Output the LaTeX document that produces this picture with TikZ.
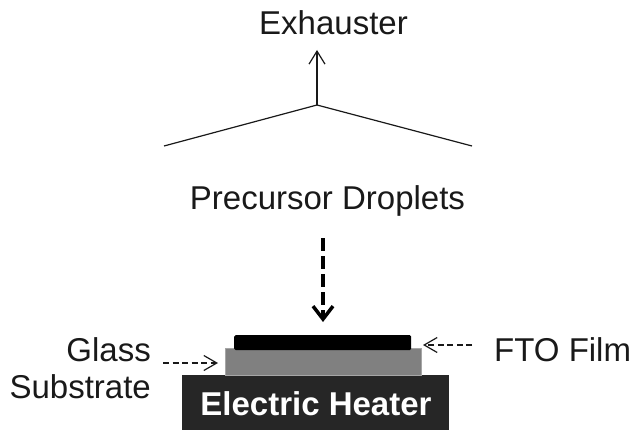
\documentclass[tikz,border=0pt]{standalone}
\usepackage{fontspec}
\setmainfont{Liberation Sans}
\usetikzlibrary{arrows.meta}
\begin{document}
\begin{tikzpicture}[x=1pt,y=-1pt,
 lab/.style={inner sep=0pt,font=\fontsize{33}{38}\selectfont,text=black!90},
 thin arrow/.style={draw=black!90,line width=1.2pt,dash pattern=on 6pt off 3.5pt,-{Straight Barb[length=13pt,width=15pt,line width=1.2pt]}},
 block/.style={inner sep=0pt,anchor=north west}]
\useasboundingbox (0,0) rectangle (632,433);
\node[block,fill=black!85,minimum width=267pt,minimum height=55pt] (heater) at (182,375) {};
\node[text=white,inner sep=0pt,anchor=base,font=\bfseries\fontsize{33}{38}\selectfont] at (316,415) {Electric Heater};
\node[block,draw=black!35,line width=0.5pt,fill=black!50,minimum width=196pt,minimum height=27pt] (glass) at (225,348) {};
\node[block,fill=black,rounded corners=1.5pt,minimum width=177pt,minimum height=15pt] (film) at (234,335) {};
\node[lab,anchor=base] (ex) at (333.5,35) {Exhauster};
\node[lab,anchor=base] (pre) at (327.5,209) {Precursor Droplets};
\node[lab,anchor=base east] (gl) at (151,361) {Glass};
\node[lab,anchor=base east] (sub) at (151,398) {Substrate};
\node[lab,anchor=base west] (fto) at (494,361) {FTO Film};
\coordinate (hub) at (317,105);
\coordinate (l) at (164,146);
\coordinate (r) at (472,146);
\coordinate (top) at (317,50);
\draw[black!90,line width=1.2pt] (l) -- (hub) -- (r);
\draw[black!90,line width=1.2pt,-{Straight Barb[length=13pt,width=16pt,line width=1.2pt]}] (hub) -- (top);
\coordinate (a1) at (323,238);
\coordinate (a2) at (323,322);
\draw[black,line width=4.5pt,dash pattern=on 13pt off 5pt,-{Straight Barb[length=13pt,width=20pt,line width=3.5pt]}] (a1) -- (a2);
\coordinate (g1) at (163,363);
\coordinate (g2) at (218,363);
\coordinate (f1) at (472,345);
\coordinate (f2) at (423,345);
\draw[thin arrow] (g1) -- (g2);
\draw[thin arrow] (f1) -- (f2);
\end{tikzpicture}
\end{document}
